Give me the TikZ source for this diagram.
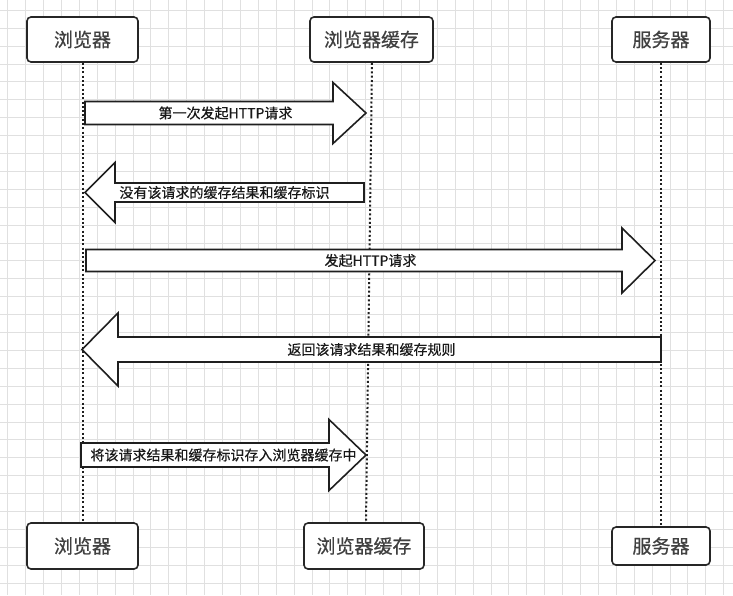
\documentclass[tikz,border=0pt]{standalone}
\usepackage{fontspec}
\setmainfont{Noto Sans CJK SC}
\newfontfamily\cjkheavy[FakeBold=0.5]{Noto Sans CJK SC}
\tikzset{
  gridline/.style={draw=black!12, line width=0.8pt},
  actor/.style={draw=black!85, line width=1.6pt, rounded corners=4pt, fill=white, inner sep=0pt,
    text=black!75, font=\cjkheavy\fontsize{19}{19}\selectfont},
  life/.style={draw=black!88, line width=2pt, dash pattern=on 2pt off 2.3pt},
  blockarrow/.style={draw=black!88, line width=1.6pt, fill=white, line join=miter},
  alabel/.style={font=\cjkheavy\fontsize{14}{14}\selectfont, text=black!90, inner sep=0pt},
}
\newcommand\rblk[8]{%
  \draw[blockarrow] (#2,#5-#6) -- (#3,#5-#6) -- (#3,#5-#7) -- (#4,#5) -- (#3,#5+#7) -- (#3,#5+#6) -- (#2,#5+#6) -- cycle;
  \node[alabel] (#1) at ({(#2+#4)/2},#5) {#8};
}
\newcommand\lblk[8]{%
  \draw[blockarrow] (#4,#5-#6) -- (#3,#5-#6) -- (#3,#5-#7) -- (#2,#5) -- (#3,#5+#7) -- (#3,#5+#6) -- (#4,#5+#6) -- cycle;
  \node[alabel] (#1) at ({(#2+#4)/2},#5) {#8};
}
\begin{document}
\begin{tikzpicture}[x=1pt,y=-1pt]
  \useasboundingbox (0,0) rectangle (733,595);
  \fill[white] (0,0) rectangle (733,595);
  % grid
  \foreach \gx in {7.6,25.5,...,733} \draw[gridline] (\gx,0) -- (\gx,595);
  \foreach \gy in {10.2,28.1,...,595} \draw[gridline] (0,\gy) -- (733,\gy);

  % actors top
  \node[actor, minimum width=111pt, minimum height=45pt] (b1) at (82.5,39.5) {浏览器};
  \node[actor, minimum width=123pt, minimum height=45pt] (c1) at (371.5,39.5) {浏览器缓存};
  \node[actor, minimum width=98pt, minimum height=45pt] (s1) at (661,39.5) {服务器};
  % actors bottom
  \node[actor, minimum width=111pt, minimum height=46pt] (b2) at (82.5,546) {浏览器};
  \node[actor, minimum width=120pt, minimum height=46pt] (c2) at (364,546) {浏览器缓存};
  \node[actor, minimum width=98pt, minimum height=38pt] (s2) at (661,546) {服务器};

  % lifelines
  \draw[life] ([xshift=0.5pt]b1.south) -- ([xshift=0.5pt]b2.north);
  \draw[life] ([xshift=0.5pt]c1.south) -- ([xshift=2pt]c2.north);
  \draw[life] (s1.south) -- (s2.north);

  % messages
  \rblk{m1}{85}{333}{366}{113}{11.5}{30.5}{第一次发起HTTP请求}
  \lblk{m2}{85}{115}{364}{192.5}{9.5}{30}{没有该请求的缓存结果和缓存标识}
  \rblk{m3}{86}{622}{655}{260.5}{11}{32.5}{发起HTTP请求}
  \lblk{m4}{82}{118}{661}{349.5}{12.5}{36.5}{返回该请求结果和缓存规则}
  \rblk{m5}{81}{329}{366}{455}{12}{35.5}{将该请求结果和缓存标识存入浏览器缓存中}
\end{tikzpicture}
\end{document}
